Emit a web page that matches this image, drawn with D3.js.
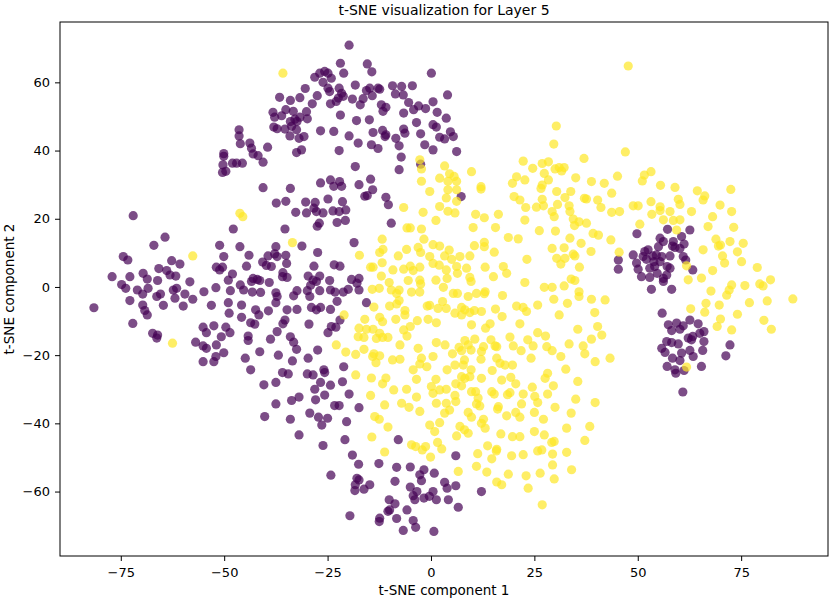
<!DOCTYPE html>
<html>
<head>
<meta charset="utf-8">
<script src="https://cdn.jsdelivr.net/npm/d3@7"></script>
<style>
  body { margin: 0; background: #fff; }
  svg { font-family: "DejaVu Sans", sans-serif; }
</style>
</head>
<body>
<div id="chart"></div>
<script>
// Layer 5 embedding: class 0 (purple) and class 1 (yellow)
const purplePoints = [
  [-72.0,20.9],[-64.3,14.6],[-67.0,12.2],[-74.4,8.9],[-73.3,7.9],[-62.7,7.7],[-60.7,6.7],[-65.8,5.4],[-63.9,4.8],[-63.1,3.5],
  [-69.6,4.0],[-68.6,2.3],[-72.8,3.0],[-77.1,3.0],[-58.3,1.5],[-66.1,1.9],[-61.7,3.2],[-74.8,0.7],[-73.8,-0.4],[-71.0,-0.9],
  [-69.7,-2.1],[-68.4,-0.4],[-66.3,-2.8],[-65.4,-2.1],[-62.3,-0.9],[-61.5,-0.4],[-61.9,-3.3],[-59.5,-2.1],[-57.6,-3.6],[-81.5,-6.1],
  [-72.8,-4.0],[-69.7,-5.3],[-69.2,-6.9],[-68.6,-8.2],[-64.7,-5.4],[-59.9,-5.6],[-72.1,-10.7],[-67.3,-13.6],[-66.1,-14.1],[-66.3,-15.0],
  [-56.9,-16.2],
  [-19.8,70.9],[-21.9,65.6],[-15.4,65.4],[-14.3,63.1],[-21.1,62.7],[0.1,62.7],[-28.1,61.5],[-26.9,62.7],[-25.7,63.2],[-24.9,62.7],
  [-24.1,61.2],[-26.1,60.0],[-24.9,58.3],[-24.5,57.3],[-18.3,59.2],[-30.4,58.2],[-22.2,58.3],[-21.6,56.8],[-22.4,55.4],[-21.2,55.9],
  [-22.9,54.4],[-15.6,57.6],[-14.8,58.3],[-12.8,58.3],[-12.4,58.0],[-9.3,59.0],[-7.1,58.8],[-6.7,56.3],[-8.6,56.6],[-4.5,59.0],
  [4.0,56.3],[-36.6,55.6],[-34.0,54.7],[-31.7,55.5],[-27.5,56.1],[-24.3,53.7],[-19.0,55.1],[-16.4,55.2],[-17.1,53.4],[-14.2,56.1],
  [-28.7,53.7],[-12.0,53.4],[-10.9,52.7],[-11.6,51.5],[-5.4,54.1],[-3.0,53.1],[-4.2,52.0],[-1.3,52.3],[0.5,54.3],[-35.1,52.0],
  [-38.2,51.2],[-36.1,50.2],[-37.8,49.8],[-33.3,51.5],[-32.9,49.2],[-32.4,48.5],[-34.0,48.5],[-31.7,49.8],[-30.1,51.4],[-29.9,49.3],
  [-21.9,50.4],[-18.0,48.8],[-14.9,49.0],[-6.6,51.0],[-3.5,48.2],[1.5,51.2],[3.7,49.5],[0.5,47.6],[1.3,46.9],[-38.0,46.9],
  [-37.2,46.4],[-35.3,46.3],[-33.7,47.1],[-32.5,46.1],[-34.1,44.3],[-31.9,43.6],[-30.7,44.1],[-46.4,46.1],[-46.4,44.3],[-46.1,42.0],
  [-43.8,42.2],[-43.4,40.7],[-43.0,39.0],[-41.8,38.5],[-39.5,41.0],[-40.6,36.6],[-50.1,39.1],[-50.1,38.3],[-48.0,36.3],[-47.0,36.3],
  [-45.6,36.3],[-50.3,35.8],[-50.4,33.6],[-49.6,33.9],[-26.7,45.8],[-23.5,45.6],[-19.8,44.3],[-17.6,42.2],[-14.0,45.3],[-11.7,45.9],
  [-10.9,44.6],[-11.1,44.1],[-8.5,43.6],[-7.7,41.4],[-14.4,41.7],[-12.8,40.6],[-6.6,46.3],[-6.3,45.1],[-2.5,44.9],[-1.5,41.7],
  [0.5,40.2],[2.1,43.9],[3.3,43.4],[4.7,45.5],[5.4,44.1],[-22.2,40.0],[-32.5,39.4],[-31.3,40.2],[-7.2,38.1],[-7.7,34.4],
  [-2.5,36.0],[-18.3,35.3],[-26.7,30.5],[-24.3,31.4],[-22.1,30.9],[-23.5,29.5],[-21.6,29.5],[-40.6,29.1],[-34.0,28.9],[-17.4,30.0],
  [-14.6,31.6],[-14.1,28.5],[-16.0,26.6],[-15.4,26.8],[-10.9,26.3],[-10.3,24.1],[-24.9,25.8],[-21.4,25.0],[-28.0,24.8],[-30.3,24.9],
  [-28.3,23.1],[-27.7,22.1],[-26.1,21.7],[-37.4,24.6],[-35.1,25.1],[-32.7,21.9],[-30.1,21.7],[-23.7,22.3],[-22.2,22.1],[-20.6,22.6],
  [-22.7,18.9],[-20.7,19.5],[-27.0,18.7],[-27.5,17.8],[-9.6,18.7],[-35.3,17.0],[-47.8,17.0],[6.2,39.7],
  [-51.1,12.2],[-46.2,11.8],[-37.5,11.8],[-31.2,12.0],[-18.6,13.0],[-27.4,10.1],[-50.1,8.9],[-44.0,9.3],[-39.4,9.1],[-37.8,9.7],
  [-37.2,8.9],[-35.1,9.3],[-34.9,6.9],[-40.7,7.3],[-39.8,6.3],[-38.6,6.0],[-44.6,6.1],[-51.9,5.8],[-50.4,5.8],[-51.1,5.0],
  [-48.0,3.8],[-43.0,2.5],[-42.0,2.2],[-41.4,1.9],[-43.4,1.6],[-35.8,4.2],[-34.8,2.8],[-35.9,3.0],[-28.3,6.1],[-29.7,3.2],
  [-26.9,3.2],[-28.5,2.0],[-27.7,1.6],[-23.4,6.5],[-22.0,6.1],[-24.5,1.9],[-19.2,2.2],[-17.4,2.5],[-17.9,1.1],[-49.0,2.0],
  [-54.9,-1.4],[-52.0,-0.2],[-48.5,-1.1],[-46.1,0.6],[-45.3,-0.9],[-43.2,-1.5],[-41.2,-1.6],[-39.1,1.3],[-37.5,-1.7],[-37.2,-2.8],
  [-37.5,-4.6],[-32.4,-1.1],[-33.2,-2.6],[-29.9,-1.1],[-29.3,-2.8],[-29.1,0.5],[-26.9,-1.1],[-24.3,-0.9],[-23.2,-1.5],[-21.2,-1.5],
  [-20.0,-0.7],[-17.4,-0.9],[-22.7,-4.2],[-15.6,-4.6],[-53.1,-5.4],[-49.0,-4.6],[-48.8,-7.7],[-45.8,-5.3],[-45.8,-8.9],[-42.4,-6.7],
  [-41.6,-8.2],[-39.3,-7.0],[-34.8,-6.7],[-32.4,-6.6],[-28.9,-6.0],[-27.7,-6.7],[-26.7,-6.0],[-24.3,-6.6],[-35.3,-9.7],[-35.8,-10.8],
  [-43.6,-10.5],[-42.6,-10.9],[-29.5,-10.9],[-55.1,-11.8],[-54.3,-13.4],[-52.5,-11.4],[-49.6,-11.8],[-48.6,-13.4],[-50.7,-14.6],[-24.1,-11.6],
  [-23.0,-11.8],[-22.0,-9.7],[-24.9,-13.4],[-37.2,-13.1],[-44.2,-14.4],[-44.2,-15.7],[-38.8,-15.3],[-34.0,-14.6],[-33.2,-16.2],[-32.5,-18.3],
  [-55.1,-17.3],[-54.3,-18.0],[-51.9,-17.0],[-50.1,-19.3],[-52.0,-20.4],[-52.5,-21.9],[-55.1,-21.9],[-41.4,-19.0],[-44.9,-20.9],[-36.9,-20.0],
  [-33.5,-21.7],[-27.4,-18.5],[-29.7,-20.9],[-43.6,-24.3],[-35.9,-25.1],[-34.5,-25.5],[-29.9,-25.5],[-28.5,-25.8],[-25.9,-24.3],[-25.7,-25.1],
  [-21.1,-23.4],[-21.4,-27.8],[-40.4,-28.7],[-37.5,-28.0],[-26.7,-28.0],[-24.3,-28.8],[-28.1,-30.0],[-25.7,-31.7],[-27.9,-33.1],[-19.8,-31.4],
  [-31.9,-32.3],[-33.7,-33.3],[-37.5,-34.3],[-23.3,-34.8],[-22.2,-34.8],[-17.4,-35.4],[-40.2,-38.0],[-34.0,-38.8],[-29.3,-37.0],[-27.2,-38.2],
  [-25.0,-38.5],[-26.4,-40.5],[-20.4,-39.5],
  [-31.9,-43.4],[-26.1,-46.5],[-20.8,-44.8],[-7.9,-44.8],[-19.0,-49.3],[-17.5,-52.0],[-12.6,-51.8],[-8.3,-52.9],[-5.0,-52.8],[6.0,-49.5],
  [-24.2,-55.2],[-17.9,-56.1],[-17.4,-56.6],[-18.3,-58.0],[-18.4,-59.7],[-16.2,-59.3],[-14.8,-58.0],[-8.7,-57.0],[-2.7,-55.1],[-2.3,-56.8],
  [-1.7,-53.6],[0.8,-54.6],[-5.0,-58.7],[-3.4,-60.0],[-4.3,-61.2],[-3.9,-62.4],[-1.7,-61.9],[-0.4,-61.4],[0.5,-60.0],[1.3,-62.4],
  [3.3,-57.3],[3.9,-59.0],[6.0,-58.3],[4.2,-62.4],[6.6,-64.6],[-10.1,-62.4],[-8.7,-63.6],[-10.0,-65.4],[-10.4,-65.8],[-5.8,-65.4],
  [-19.6,-67.1],[-12.4,-67.8],[-12.5,-68.8],[-8.3,-67.9],[-4.3,-68.5],[-3.7,-70.5],[-6.7,-71.4],[0.7,-71.7],
  [45.3,7.9],[45.3,5.2],[7.3,26.5],[12.2,-60.0],[49.8,15.6],
  [57.2,16.9],[62.6,16.7],[55.4,14.3],[56.2,13.3],[58.6,13.3],[60.6,14.8],[61.2,12.6],[59.0,11.6],[60.2,11.3],[58.4,12.0],
  [55.0,11.8],[54.5,9.4],[52.5,10.9],[51.7,10.4],[51.3,8.9],[48.9,9.4],[49.7,7.0],[50.1,5.2],[52.1,8.1],[53.6,9.1],
  [53.9,7.4],[55.8,8.9],[55.4,7.4],[57.8,9.1],[61.0,8.9],[61.6,7.9],[52.9,5.5],[54.1,6.0],[54.7,4.0],[57.1,6.0],
  [57.8,5.5],[63.3,5.0],[50.9,3.0],[52.9,2.8],[56.2,2.5],[57.0,3.5],[56.2,1.6],[53.3,-0.7],[58.2,-0.7],[55.9,-7.7],
  [57.4,-11.1],[59.4,-10.6],[61.0,-11.4],[62.6,-9.7],[64.6,-10.8],[58.2,-12.8],[60.2,-12.4],[63.3,-14.5],[65.0,-13.6],[66.0,-13.1],
  [66.0,-16.0],[62.2,-15.0],[57.0,-16.0],[58.2,-16.3],[59.8,-16.7],[55.8,-18.0],[56.6,-19.2],[60.6,-19.4],[62.6,-18.6],[63.4,-20.4],
  [65.7,-18.6],[72.3,-17.0],[71.3,-20.2],[58.4,-20.9],[60.2,-21.6],[57.1,-23.3],[59.0,-24.3],[61.2,-24.5],[65.4,-23.3],[59.2,-25.3],
  [63.0,-15.5],[60.9,-30.8]
];

const yellowPoints = [
  [-57.6,9.1],[-62.5,-16.5],[-46.2,21.6],[-45.5,20.6],
  [-35.8,62.7],[-2.7,37.3],[-2.3,34.6],[3.3,35.5],[4.5,33.2],[5.6,32.4],[2.1,31.9],[4.1,31.0],[6.2,31.0],[-2.3,31.0],
  [-0.3,28.0],[4.1,28.5],[6.2,28.5],[3.7,26.1],[6.2,25.1],[2.1,23.6],[4.1,22.2],[5.8,21.7],[-6.6,23.3],[-1.9,21.9],
  [1.2,19.5],[-5.8,17.3],[-5.0,17.3],[-2.3,17.0],
  [-33.5,13.0],[-17.3,9.3],[-11.8,14.0],[-12.4,10.1],[-11.6,11.0],[-14.6,5.8],[-14.0,5.8],[-11.8,7.1],[-7.9,9.1],[-5.9,11.0],
  [-3.1,11.6],[-2.5,10.1],[-1.7,14.0],[-0.3,8.9],[0.5,12.4],[2.1,12.0],[0.5,6.9],[2.0,6.4],[3.3,9.1],[4.4,10.8],
  [5.0,8.1],[3.7,5.0],[6.2,6.0],[-12.0,3.2],[-9.2,5.0],[-6.6,5.2],[-5.0,6.1],[-2.7,5.8],[-4.3,4.8],[-10.1,1.3],
  [-9.6,-0.9],[-7.7,-0.9],[-8.3,-1.9],[-7.7,-4.0],[-14.2,-0.7],[-12.5,-0.4],[-5.5,1.9],[-2.7,2.0],[-2.5,0.9],[-4.7,-1.5],
  [-2.7,-1.5],[1.2,2.0],[3.0,-0.1],[3.9,2.5],[5.4,-1.9],[-13.8,-5.9],[-10.0,-5.6],[-8.3,-5.0],[-6.3,-6.9],[-6.3,-8.2],
  [-0.9,-5.6],[-0.3,-5.4],[1.7,-6.3],[2.8,-4.3],[3.7,-6.3],[5.8,-7.7],[-21.0,-8.2],[-16.0,-9.5],[-12.4,-8.9],[-11.7,-10.2],
  [-8.5,-9.5],[-3.3,-9.9],[-0.7,-9.5],[1.3,-10.5],[-17.4,-12.1],[-15.6,-12.4],[-14.0,-12.4],[-12.4,-13.6],[-13.2,-15.1],[-11.7,-14.8],
  [-10.4,-14.8],[-17.6,-14.6],[-16.2,-14.8],[-6.6,-12.6],[-5.0,-11.6],[-5.8,-14.4],[-7.5,-17.0],[-22.9,-17.0],[-20.6,-19.1],[-18.2,-19.8],
  [-16.2,-18.3],[-14.1,-20.4],[-13.3,-22.2],[-13.8,-19.6],[-12.4,-20.2],[-9.3,-21.4],[-7.5,-21.2],[-3.1,-18.0],[-2.3,-20.9],[0.5,-20.4],
  [1.3,-16.3],[3.4,-17.0],[5.2,-19.6],[-4.3,-24.3],[-2.7,-22.6],[-1.0,-23.4],[1.2,-27.1],[3.9,-24.3],[5.8,-22.9],[-18.2,-25.8],
  [-14.4,-26.7],[-10.9,-26.7],[-11.7,-28.4],[-14.6,-31.8],[-9.0,-30.2],[-5.9,-30.0],[-3.5,-27.1],[0.1,-29.2],[0.5,-31.2],[2.1,-30.2],
  [3.7,-30.0],[6.0,-28.4],[5.8,-31.8],[-3.5,-32.3],[-7.1,-34.1],[-5.3,-35.3],[-2.7,-36.5],[-11.2,-34.6],[-13.6,-38.0],[-12.5,-38.8],
  [1.3,-34.1],[3.7,-34.1],[3.3,-37.0],[4.5,-36.1],[6.0,-33.6],[-10.4,-41.1],[-0.3,-40.5],[2.1,-39.8],
  [-14.3,-44.0],[-11.2,-48.4],[-4.7,-46.3],[-3.7,-46.8],[-2.1,-47.8],[-1.3,-46.8],[-0.1,-49.9],[1.6,-45.6],[2.6,-47.5],[0.9,-42.4],
  [6.6,-54.1],[6.2,-43.7],
  [47.7,64.8],[30.3,47.2],[29.7,41.9],[47.0,39.6],[37.0,37.7],[22.3,36.9],[26.9,36.2],[28.4,36.7],[24.6,34.8],[30.0,34.6],
  [31.0,35.0],[31.6,34.0],[32.2,35.0],[27.4,33.3],[28.4,31.4],[26.9,29.9],[26.6,28.9],[9.8,33.8],[20.7,32.3],[22.7,31.4],
  [19.7,30.4],[35.0,32.0],[38.8,30.9],[41.9,30.4],[45.1,32.5],[51.6,32.8],[53.2,33.8],[51.1,31.1],[12.1,29.4],[12.1,28.7],
  [30.4,28.0],[33.8,28.0],[20.1,26.5],[21.5,25.5],[26.9,25.7],[32.4,26.2],[33.4,23.8],[37.1,26.0],[37.6,25.8],[40.3,25.5],
  [43.7,27.5],[41.1,23.3],[53.2,25.0],[22.9,23.3],[25.5,23.4],[27.2,23.8],[29.3,22.1],[29.8,20.6],[30.6,24.2],[33.6,22.1],
  [48.9,23.8],[50.1,23.8],[43.7,21.9],[45.6,22.1],[53.4,21.3],[10.8,21.3],[12.9,20.3],[16.3,21.3],[22.7,19.6],[34.4,19.9],
  [35.8,19.1],[34.7,18.0],[37.6,18.7],[50.5,18.4],[10.2,17.4],[15.6,17.4],[26.2,16.5],[30.1,16.4],[39.2,15.7],[40.5,15.2],
  [43.5,13.8],[18.7,14.5],[21.1,14.1],[33.6,14.3],[36.3,12.8],[12.9,13.1],[12.9,11.8],[10.5,12.1],[15.3,10.2],[29.3,11.3],
  [32.2,11.5],[34.4,9.6],[38.7,10.4],[45.5,10.2],
  [23.2,8.1],[30.4,8.4],[31.4,6.7],[32.4,8.4],[34.8,9.1],[35.9,5.8],[9.4,9.1],[7.0,8.9],[13.1,5.8],[15.1,3.0],
  [17.5,6.0],[18.3,4.0],[9.4,2.8],[9.7,1.6],[8.6,5.5],[6.4,4.0],[22.7,1.3],[27.4,-0.1],[29.3,-0.1],[32.2,0.3],
  [33.9,2.3],[34.8,1.9],[35.8,-1.4],[35.8,-2.8],[38.8,-3.6],[42.1,-3.8],[6.4,-1.9],[9.0,-2.8],[11.0,-1.9],[13.1,-1.4],
  [12.9,-2.0],[17.3,-2.5],[29.7,-3.6],[33.0,-4.8],[20.7,-5.6],[22.3,-6.0],[23.1,-7.2],[15.6,-6.5],[17.2,-8.7],[25.8,-5.3],
  [7.4,-6.0],[8.2,-6.7],[7.4,-8.2],[9.4,-7.5],[10.5,-6.9],[12.2,-7.2],[31.0,-8.2],[39.6,-7.5],[9.8,-11.1],[13.2,-12.1],
  [14.3,-10.8],[21.5,-10.8],[40.3,-11.6],[25.8,-13.4],[27.7,-14.4],[35.5,-12.4],[41.3,-14.1],[38.8,-15.3],[19.1,-14.7],[23.4,-15.5],
  [24.7,-17.3],[19.9,-17.3],[21.8,-18.7],[14.5,-15.5],[15.5,-17.3],[15.9,-17.5],[12.7,-17.5],[10.6,-15.3],[8.2,-15.7],[9.0,-17.0],
  [7.4,-18.7],[6.8,-17.7],[9.7,-18.5],[28.0,-17.5],[29.3,-18.7],[31.4,-20.4],[33.4,-16.7],[36.8,-17.3],[37.2,-19.6],[24.2,-20.9],
  [43.3,-20.9],[39.7,-21.9],[12.1,-21.2],[12.2,-18.9],[15.9,-20.9],[16.7,-22.4],[17.9,-22.9],[19.7,-22.9],[8.1,-21.4],[7.8,-22.9],
  [9.7,-24.3],[7.4,-26.3],[8.2,-26.8],[9.4,-26.3],[12.2,-26.8],[14.8,-24.5],[32.6,-24.1],[28.2,-25.3],[27.6,-26.8],[19.3,-26.5],
  [20.5,-28.4],[17.1,-27.3],[35.5,-27.7],[29.6,-29.0],[24.5,-29.4],[28.2,-31.4],[7.4,-29.0],[9.8,-30.7],[10.8,-30.7],[11.4,-32.6],
  [14.7,-30.7],[15.3,-31.4],[18.5,-31.6],[19.1,-31.0],[22.3,-31.4],[25.1,-32.1],[25.8,-33.9],[35.0,-32.9],[39.7,-33.9],[21.9,-34.3],
  [16.3,-35.1],[16.1,-35.8],[18.3,-37.8],[11.0,-34.3],[11.8,-34.9],[30.0,-35.3],[33.9,-37.0],[25.0,-36.8],[20.5,-36.8],[21.5,-38.2],
  [27.2,-38.8],[9.0,-36.8],[9.8,-38.2],[12.7,-38.8],[12.2,-40.0],[13.1,-41.4],[32.8,-41.4],[38.4,-40.9],[7.0,-40.9],[8.1,-41.9],
  [9.0,-42.9],[16.9,-43.1],[19.7,-43.9],[21.5,-43.9],[25.0,-42.4],[27.4,-43.4],[37.2,-45.0],[13.7,-46.6],[15.9,-47.6],[29.2,-45.6],
  [29.8,-45.3],
  [11.3,-48.9],[14.7,-50.4],[15.8,-48.1],[19.5,-49.5],[22.3,-49.2],[25.8,-48.1],[26.8,-47.8],[29.4,-49.0],[32.8,-48.5],[11.0,-52.6],
  [13.5,-54.3],[18.7,-54.9],[23.0,-55.4],[26.4,-54.6],[29.4,-52.2],[29.8,-56.3],[34.0,-53.6],[15.9,-57.2],[17.1,-58.0],[23.5,-59.0],
  [26.9,-63.9],
  [55.5,29.8],[59.0,29.2],[64.4,28.2],[66.2,26.7],[65.8,25.5],[72.5,28.6],[59.8,25.7],[60.2,24.2],[55.4,23.5],[55.4,22.4],
  [57.8,22.1],[63.0,22.1],[69.9,24.0],[72.7,22.1],[56.2,19.7],[58.6,19.5],[60.2,19.7],[68.1,20.6],[67.0,17.7],[73.2,17.5],
  [59.4,16.7],[68.9,14.0],[69.5,12.0],[70.0,12.3],[72.3,13.3],[75.5,12.8],[65.8,10.9],[74.1,10.3],[70.5,9.1],[71.0,7.0],
  [75.1,7.4],[61.8,6.2],[78.9,5.7],[68.1,4.8],[62.2,2.1],[65.4,2.6],[72.7,0.6],[72.1,-0.9],[71.5,-2.4],[75.9,0.4],
  [67.7,-1.2],[79.5,0.9],[80.3,0.3],[82.1,2.1],[87.5,-3.5],[66.5,-4.8],[69.7,-5.3],[77.0,-4.6],[81.3,-4.1],[62.8,-6.4],
  [66.2,-7.4],[74.1,-8.0],[70.0,-9.4],[80.5,-9.8],[69.2,-11.6],[72.7,-12.6],[82.3,-12.4],[61.8,-23.5]
];

const xTicks = [-75, -50, -25, 0, 25, 50, 75];
const yTicks = [-60, -40, -20, 0, 20, 40, 60];

const width = 830;
const height = 600;
const margin = { top: 22, right: 2, bottom: 44, left: 60 };

const svg = d3.select("#chart")
  .append("svg")
  .attr("width", width)
  .attr("height", height);

const x = d3.scaleLinear()
  .domain([-89.7, 96.0])
  .range([margin.left, width - margin.right]);

const y = d3.scaleLinear()
  .domain([-78.9, 77.7])
  .range([height - margin.bottom, margin.top]);

// points: class 0 first, class 1 on top
const dots = svg.append("g");

dots.selectAll("circle.p0")
  .data(purplePoints)
  .join("circle")
  .attr("class", "p0")
  .attr("cx", d => x(d[0]))
  .attr("cy", d => y(d[1]))
  .attr("r", 4.6)
  .attr("fill", "#440154")
  .attr("fill-opacity", 0.7);

dots.selectAll("circle.p1")
  .data(yellowPoints)
  .join("circle")
  .attr("class", "p1")
  .attr("cx", d => x(d[0]))
  .attr("cy", d => y(d[1]))
  .attr("r", 4.6)
  .attr("fill", "#fde725")
  .attr("fill-opacity", 0.7);

// frame
svg.append("rect")
  .attr("x", margin.left)
  .attr("y", margin.top)
  .attr("width", width - margin.left - margin.right)
  .attr("height", height - margin.top - margin.bottom)
  .attr("fill", "none")
  .attr("stroke", "#000")
  .attr("stroke-width", 1);

const xAxis = g => g
  .attr("transform", `translate(0,${height - margin.bottom})`)
  .call(d3.axisBottom(x).tickValues(xTicks).tickSize(5).tickSizeOuter(0).tickPadding(6.5))
  .call(g => g.select(".domain").remove())
  .call(g => g.selectAll("text").style("font-size", "13px").attr("fill", "#000"));

const yAxis = g => g
  .attr("transform", `translate(${margin.left},0)`)
  .call(d3.axisLeft(y).tickValues(yTicks).tickSize(5).tickSizeOuter(0).tickPadding(5))
  .call(g => g.select(".domain").remove())
  .call(g => g.selectAll("text").style("font-size", "13px").attr("fill", "#000"));

svg.append("g").call(xAxis);
svg.append("g").call(yAxis);

svg.selectAll(".tick line").attr("stroke", "#000");
svg.selectAll(".tick text").style("font-family", "DejaVu Sans");

// labels
svg.append("text")
  .attr("x", (margin.left + width - margin.right) / 2)
  .attr("y", 594.5)
  .attr("text-anchor", "middle")
  .style("font-size", "13.5px")
  .text("t-SNE component 1");

svg.append("text")
  .attr("transform", `translate(14,${(margin.top + height - margin.bottom) / 2}) rotate(-90)`)
  .attr("text-anchor", "middle")
  .style("font-size", "13.5px")
  .text("t-SNE component 2");

svg.append("text")
  .attr("x", (margin.left + width - margin.right) / 2)
  .attr("y", 15)
  .attr("text-anchor", "middle")
  .style("font-size", "14px")
  .text("t-SNE visualization for Layer 5");
</script>
</body>
</html>
